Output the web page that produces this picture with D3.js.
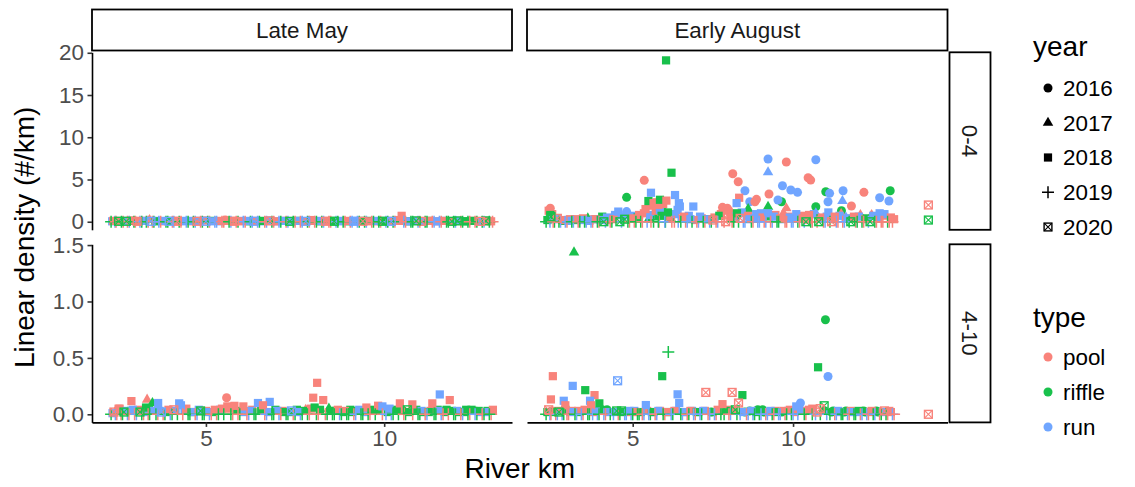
<!DOCTYPE html>
<html><head><meta charset="utf-8">
<script src="https://cdn.jsdelivr.net/npm/d3@7"></script>
<style>body{margin:0;background:#fff} text{font-family:"Liberation Sans",Arial,sans-serif}</style>
</head><body><svg id="c" width="1135" height="487"></svg>
<script>
const periods = ["Late May","Early August"];
const sizeClasses = ["0-4","4-10"];
const years = ["2016","2017","2018","2019","2020"];
const types = ["pool","riffle","run"];
const typeColors = ["#F8766D","#00BA38","#619CFF"];
const xTicks = [5,10];
const yTicksTop = [0,5,10,15,20];
const yTicksBottom = [0,0.5,1,1.5];

// records: [river km, density, year index, type index]
const mayJuv = [
[2.34,0,3,1],[2.40,0.1,2,0],[2.48,0,3,0],[2.55,0.05,4,1],[2.63,0,3,1],[2.72,0.1,2,2],[2.80,0,3,0],[2.90,0.15,2,0],[2.98,0,3,1],[3.07,0.05,4,0],[3.15,0,3,2],[3.25,0.1,2,2],[3.33,0,3,1],[3.42,0.2,1,0],[3.50,0,3,0],[3.58,0.05,2,1],[3.68,0,3,2],[3.78,0.1,2,2],[3.88,0,3,1],[3.97,0.05,4,2],[4.06,0,3,0],[4.15,0.1,2,0],[4.25,0,3,1],[4.35,0.05,2,2],[4.45,0,3,2],[4.55,0.1,2,2],[4.65,0,3,1],[4.75,0.05,4,0],[4.85,0,3,0],[4.95,0.15,2,0],[5.05,0,3,1],[5.15,0.05,2,2],[5.25,0,3,2],[5.35,0.1,2,0],[5.45,0,3,0],[5.55,0.2,0,0],[5.65,0,3,1],[5.75,0.1,2,0],[5.85,0,3,0],[5.95,0.05,2,0],[6.05,0,3,2],[6.15,0.1,2,2],[6.25,0,3,1],[6.35,0.05,4,2],[6.45,0,3,2],[6.55,0.1,2,1],[6.65,0,3,0],[6.75,0.15,2,2],[6.85,0,3,1],[6.95,0.05,2,0],[7.05,0,3,2],[7.15,0.1,2,2],[7.25,0,3,0],[7.35,0.05,4,1],[7.45,0,3,1],[7.55,0.1,2,2],[7.65,0,3,0],[7.75,0.05,2,0],[7.85,0,3,1],[7.95,0.2,2,0],[8.05,0,3,0],[8.15,0.1,2,2],[8.25,0,3,1],[8.35,0.05,4,0],[8.45,0,3,0],[8.55,0.1,2,1],[8.65,0,3,2],[8.75,0.05,2,2],[8.85,0,3,1],[8.95,0.1,2,0],[9.05,0,3,0],[9.15,0.05,4,2],[9.25,0,3,2],[9.35,0.1,2,1],[9.45,0,3,1],[9.55,0.05,2,0],[9.65,0,3,0],[9.75,0.1,2,2],[9.85,0,3,1],[9.95,0.05,4,1],[10.05,0,3,2],[10.15,0.1,2,0],[10.25,0,3,1],[10.35,0.2,2,0],[10.49,0.7,2,0],[10.60,0,3,0],[10.70,0.05,2,2],[10.80,0,3,1],[10.90,0.1,4,1],[11.00,0,3,0],[11.10,0.05,2,2],[11.20,0,3,1],[11.30,0.1,2,0],[11.40,0,3,2],[11.50,0.05,2,2],[11.60,0,3,0],[11.70,0.1,2,0],[11.80,0,3,1],[11.90,0.05,4,1],[12.00,0,3,2],[12.10,0.1,2,2],[12.20,0,3,1],[12.30,0.05,2,1],[12.40,0,3,0],[12.50,0.1,2,1],[12.60,0,3,1],[12.70,0.05,4,0],[12.80,0,3,2],[12.90,0.1,2,0],[13.04,0,3,0]
];
const mayJuvMore = [
[2.37,0.05,2,2],[2.45,0,3,2],[2.52,0.1,2,0],[2.68,0,3,0],[2.77,0.05,4,1],[2.85,0,3,2],[2.94,0.1,2,1],[3.02,0,3,0],[3.11,0.05,2,0],[3.20,0,3,1],[3.29,0.1,2,0],[3.38,0,3,0],[3.46,0.05,4,2],[3.54,0,3,1],[3.63,0.1,2,2],[3.73,0,3,0],[3.83,0.05,2,0],[3.93,0,3,1],[4.01,0.1,2,1],[4.10,0,3,2],[4.20,0.05,4,0],[4.30,0,3,0],[4.40,0.1,2,2],[4.50,0,3,1],[4.60,0.05,2,0],[4.70,0,3,2],[4.80,0.1,2,2],[4.90,0,3,1],[5.00,0.05,4,2],[5.10,0,3,0],[5.20,0.1,2,1],[5.30,0,3,2],[5.40,0.05,2,2],[5.50,0,3,0],[5.60,0.1,2,0],[5.70,0,3,2],[5.80,0.05,4,0],[5.90,0,3,1],[6.00,0.1,2,2],[6.10,0,3,0],[6.20,0.05,2,1],[6.30,0,3,2],[6.40,0.1,2,0],[6.50,0,3,1],[6.60,0.05,2,2],[6.70,0,3,2],[6.80,0.1,4,0],[6.90,0,3,0],[7.00,0.05,2,2],[7.10,0,3,1],[7.20,0.1,2,0],[7.30,0,3,2],[7.40,0.05,2,2],[7.50,0,3,0],[7.60,0.1,2,1],[7.70,0,3,2],[7.80,0.05,4,2],[7.90,0,3,0],[8.00,0.1,2,0],[8.10,0,3,1],[8.20,0.05,2,1],[8.30,0,3,2],[8.40,0.1,2,0],[8.50,0,3,0],[8.60,0.05,4,1],[8.70,0,3,1],[8.80,0.1,2,2],[8.90,0,3,0],[9.00,0.05,2,1],[9.10,0,3,2],[9.20,0.1,2,2],[9.30,0,3,1],[9.40,0.05,4,0],[9.50,0,3,2],[9.60,0.1,2,1],[9.70,0,3,1],[9.80,0.05,2,0],[9.90,0,3,0],[10.00,0.1,2,1],[10.10,0,3,1],[10.20,0.05,4,2],[10.30,0,3,0],[10.42,0.1,2,0],[10.55,0,3,2],[10.65,0.05,2,1],[10.75,0,3,1],[10.85,0.1,2,2],[10.95,0,3,2],[11.05,0.05,4,0],[11.15,0,3,1],[11.25,0.1,2,1],[11.35,0,3,0],[11.45,0.05,2,0],[11.55,0,3,2],[11.65,0.1,2,2],[11.75,0,3,1],[11.85,0.05,2,0],[11.95,0,3,1],[12.05,0.1,4,1],[12.15,0,3,0],[12.25,0.05,2,1],[12.35,0,3,1],[12.45,0.1,2,0],[12.55,0,3,0],[12.65,0.05,2,2],[12.75,0,3,1],[12.85,0.1,4,1],[12.95,0,3,1],[13.00,0.05,2,0]
];
const mayAdult = [
[2.34,0,3,1],[2.42,0.02,4,0],[2.50,0,3,0],[2.58,0.05,2,0],[2.66,0,3,1],[2.75,0.03,2,2],[2.84,0,3,0],[2.95,0.04,2,2],[3.05,0,3,2],[3.15,0.02,4,1],[3.25,0,3,0],[3.32,0.06,2,1],[3.42,0,3,1],[3.55,0.03,2,2],[3.65,0,3,0],[3.75,0.02,4,2],[3.85,0,3,1],[3.95,0.04,2,0],[4.05,0,3,1],[4.15,0.03,2,2],[4.35,0,3,0],[4.45,0.05,2,0],[4.55,0,3,1],[4.65,0.02,2,2],[4.75,0,3,2],[4.85,0.03,4,1],[4.95,0,3,1],[5.05,0.02,2,2],[5.15,0,3,0],[5.25,0.04,2,0],[5.35,0,3,1],[5.45,0.05,2,0],[5.70,0,3,1],[5.90,0,3,0],[6.15,0,3,0],[6.25,0.03,2,2],[6.35,0,3,1],[6.70,0,3,2],[6.90,0,3,1],[7.00,0.03,2,2],[7.10,0,3,0],[7.20,0.02,2,1],[7.30,0,3,1],[7.40,0.03,4,2],[7.50,0,3,1],[7.60,0.02,2,2],[7.70,0,3,1],[7.80,0.04,1,0],[7.90,0,3,0],[8.05,0.06,2,1],[8.15,0,3,0],[8.40,0,3,1],[8.50,0.03,2,1],[8.60,0,3,1],[8.70,0.04,2,0],[8.80,0,3,1],[8.90,0.03,2,0],[9.00,0,3,1],[9.10,0.02,2,1],[9.20,0,3,2],[9.30,0.04,2,2],[9.40,0,3,1],[9.60,0,3,0],[9.70,0.03,2,1],[10.05,0,3,2],[10.15,0.05,2,2],[10.25,0,3,1],[10.35,0.03,2,1],[10.55,0,3,0],[10.65,0.04,4,1],[10.95,0,3,1],[11.05,0.03,2,2],[11.15,0,3,0],[11.25,0.02,2,1],[11.45,0,3,1],[11.55,0.03,2,2],[11.65,0,3,0],[11.75,0.04,2,1],[11.95,0,3,1],[12.05,0.03,2,2],[12.15,0,3,0],[12.25,0.02,2,1],[12.35,0,3,1],[12.45,0.04,2,1],[12.55,0,3,2],[12.65,0.03,2,1],[12.75,0,3,0],[12.85,0.02,2,2],[12.95,0,3,1],[13.05,0.04,2,0],
[3.35,0.13,1,0],[2.91,0.117,2,0],[3.66,0.10,2,2],[5.58,0.147,0,0],[5.60,0.07,2,0],[5.80,0.075,2,0],[6.05,0.07,2,0],[4.25,0.097,2,2],[6.79,0.11,2,2],[6.46,0.10,2,2],[6.60,0.08,2,0],[3.50,0.10,1,1],[8.12,0.279,2,0],[8.01,0.147,2,0],[8.29,0.126,2,0],[11.56,0.176,2,2],[11.84,0.126,2,0],[10.79,0.088,2,0],[11.35,0.097,2,0],[10.44,0.097,2,0],[9.83,0.076,2,0],[9.50,0.06,2,0],[9.95,0.07,2,2],[2.55,0.05,2,0],[4.30,0.08,2,2]
];
const mayAdultMore = [
[2.38,0.01,2,2],[2.46,0,3,2],[2.54,0.03,2,0],[2.62,0,3,0],[2.70,0.02,4,1],[2.80,0,3,2],[2.90,0.03,2,1],[3.00,0,3,0],[3.10,0.04,2,0],[3.20,0,3,1],[3.30,0.02,2,2],[3.38,0,3,0],[3.46,0.05,1,1],[3.60,0,3,1],[3.70,0.03,2,2],[3.80,0,3,0],[3.90,0.02,2,1],[4.00,0,3,2],[4.10,0.04,4,0],[4.20,0,3,1],[4.40,0.03,2,2],[4.50,0,3,1],[4.60,0.02,2,1],[4.70,0,3,0],[4.80,0.04,2,2],[4.90,0,3,1],[5.00,0.03,2,0],[5.10,0,3,2],[5.20,0.02,2,1],[5.30,0,3,0],[5.40,0.04,2,2],[5.50,0,3,1],[5.65,0.05,2,0],[5.75,0,3,0],[5.85,0.03,2,1],[5.95,0,3,1],[6.05,0.02,2,2],[6.20,0,3,2],[6.30,0.04,2,0],[6.40,0,3,1],[6.55,0.03,2,1],[6.65,0,3,0],[6.75,0.02,2,2],[6.85,0,3,1],[6.95,0.04,2,1],[7.05,0,3,2],[7.15,0.03,2,0],[7.25,0,3,1],[7.35,0.02,2,1],[7.45,0,3,0],[7.55,0.04,2,1],[7.65,0,3,2],[7.75,0.03,2,1],[7.85,0,3,1],[7.95,0.05,2,0],[8.10,0,3,1],[8.20,0.04,2,1],[8.35,0,3,0],[8.45,0.05,1,1],[8.55,0,3,1],[8.65,0.03,2,1],[8.75,0,3,2],[8.85,0.02,2,1],[8.95,0,3,1],[9.05,0.04,2,1],[9.15,0,3,0],[9.25,0.03,2,1],[9.35,0,3,1],[9.45,0.02,2,2],[9.55,0,3,1],[9.65,0.04,2,1],[9.75,0,3,1],[9.85,0.03,2,1],[9.95,0,3,0],[10.10,0.02,2,1],[10.20,0,3,2],[10.30,0.04,2,1],[10.40,0,3,1],[10.50,0.03,2,0],[10.60,0,3,1],[10.70,0.02,2,1],[10.80,0,3,0],[10.90,0.04,2,1],[11.00,0,3,1],[11.10,0.02,2,1],[11.20,0,3,2],[11.30,0.03,2,0],[11.40,0,3,1],[11.50,0.04,2,1],[11.60,0,3,2],[11.70,0.02,2,1],[11.80,0,3,0],[11.90,0.03,2,1],[12.00,0,3,1],[12.10,0.02,2,1],[12.20,0,3,2],[12.30,0.04,2,1],[12.40,0,3,0],[12.50,0.03,2,1],[12.60,0,3,1],[12.70,0.02,2,2],[12.80,0,3,1],[12.90,0.03,2,1],[13.00,0,3,0]
];
const augJuv = [
[2.30,0,3,1],[2.38,1.3,2,0],[2.45,0.6,4,1],[2.52,0,3,0],[2.60,0.3,2,2],[2.70,0,3,1],[2.80,0.2,2,0],[2.90,0,3,2],[3.00,0.1,2,2],[3.10,0,3,1],[3.20,0.3,2,0],[3.30,0,3,0],[3.40,0.2,2,2],[3.50,0,3,1],[3.60,0.4,1,1],[3.70,0,3,2],[3.80,0.3,2,0],[3.90,0,3,1],[4.00,0.2,2,2],[4.10,0,4,1],[4.20,0.5,2,2],[4.30,0,3,0],[4.40,0.3,2,0],[4.55,1.2,2,2],[4.60,0,4,1],[4.70,0.6,0,2],[4.81,1.2,0,2],[4.90,0,3,0],[5.00,0.4,2,0],[5.10,0,3,1],[5.20,0.8,2,0],[5.30,0,3,0],[5.40,1.5,2,0],[5.50,0.3,1,1],[5.57,0,3,0],[5.62,1.9,2,0],[5.70,0.5,1,1],[5.75,2.3,2,0],[5.80,0,3,1],[5.85,1.4,2,2],[5.90,0.7,2,1],[5.95,2.1,2,0],[6.00,0,3,2],[6.10,1.1,2,1],[6.20,0.3,1,1],[6.30,0,3,0],[6.40,1.4,2,2],[6.50,0,3,1],[6.60,0.6,2,0],[6.70,0,3,2],[6.80,0.3,2,2],[6.89,1.8,2,2],[7.00,0,3,0],[7.10,0.6,2,2],[7.20,0,3,1],[7.30,0.3,2,2],[7.40,0,3,2],[7.50,0.2,4,0],[7.60,0,3,0],[7.70,0.7,2,1],[7.80,1.2,0,0],[7.90,0,4,0],[8.00,1.3,0,0],[8.05,0.5,2,0],[8.15,0,3,1],[8.25,1.0,2,1],[8.35,0.4,4,0],[8.45,0,3,2],[8.55,1.0,1,1],[8.65,0.3,2,2],[8.75,0,3,0],[8.85,0.9,2,2],[8.95,0,3,2],[9.05,0.5,2,0],[9.15,0,3,2],[9.22,1.0,2,2],[9.30,0,3,0],[9.40,0.6,2,2],[9.50,0,3,1],[9.60,0.4,2,0],[9.70,1.0,1,0],[9.80,0,3,0],[9.90,0.5,2,2],[10.00,0,3,2],[10.10,0.9,2,2],[10.20,0,3,0],[10.30,0.4,2,0],[10.40,0,4,1],[10.50,0.8,2,0],[10.60,0,3,0],[10.71,1.0,1,2],[10.80,0,4,1],[10.90,0.5,2,0],[11.00,0,3,2],[11.10,1.1,2,2],[11.20,0,4,0],[11.30,0.6,2,0],[11.40,0,3,0],[11.50,0.9,1,0],[11.60,0,3,2],[11.70,0.4,2,2],[11.80,0,4,1],[11.90,0.6,2,0],[12.00,0,3,1],[12.10,0.8,1,0],[12.20,0,3,0],[12.30,0.4,2,1],[12.40,0,4,1],[12.50,0.7,2,2],[12.60,0,3,0],[12.70,1.0,2,2],[12.80,0,3,0],[12.90,0.6,1,0],[13.00,0,3,0],[13.15,0.3,2,0],
[4.81,2.89,0,1],[5.36,4.9,0,0],[6.04,19.1,2,1],[6.21,5.8,2,1],[5.57,3.43,2,2],[8.12,5.68,0,0],[8.29,4.73,0,0],[6.32,3.16,2,2],[5.49,2.45,2,1],[5.65,2.2,2,0],[5.80,2.0,2,0],[6.44,2.2,2,2],[6.47,1.8,2,2],[5.85,2.6,2,1],[6.05,2.5,2,0],[2.43,1.6,0,0],[2.43,0.8,2,1],[9.22,7.42,0,2],[9.22,5.85,1,2],[9.79,7.07,0,0],[10.71,7.34,0,2],[10.47,5.2,0,0],[10.55,4.93,0,0],[8.50,3.67,0,2],[9.67,4.26,0,2],[9.93,3.75,0,2],[10.14,3.48,0,2],[9.25,3.28,0,0],[9.64,2.37,0,1],[9.53,2.57,0,2],[8.32,2.84,2,0],[8.24,2.2,2,2],[8.65,2.37,0,2],[8.81,2.37,0,0],[8.86,2.65,0,0],[7.80,1.7,0,0],[7.95,1.6,0,0],[11.02,3.55,0,1],[11.14,3.36,0,2],[11.56,3.67,0,2],[11.54,2.45,1,2],[11.09,2.37,0,2],[12.21,3.48,0,0],[11.82,1.86,0,0],[12.70,2.84,0,2],[13.03,3.67,0,1],[12.99,2.45,0,2],[10.71,1.78,0,1],[11.51,1.3,0,1],[14.22,1.98,4,0],[14.22,0.2,4,1],[8.60,1.5,1,1],[9.22,1.78,1,1],[9.79,1.6,1,0]
];
const augJuvMore = [
[2.34,0.2,2,1],[2.42,0,3,2],[2.49,0.9,2,0],[2.56,0,3,1],[2.65,0.4,4,0],[2.75,0,3,2],[2.85,0.1,2,1],[2.95,0,3,0],[3.05,0.3,2,0],[3.15,0,3,2],[3.25,0.2,2,1],[3.35,0,3,1],[3.45,0.4,2,0],[3.55,0,3,2],[3.65,0.1,2,2],[3.75,0,3,0],[3.85,0.3,2,2],[3.95,0,3,0],[4.05,0.6,2,1],[4.15,0,3,2],[4.25,0.2,2,0],[4.35,0,3,1],[4.45,0.8,2,2],[4.65,0,3,2],[4.75,0.3,4,1],[4.85,0,3,1],[4.95,0.7,2,2],[5.05,0,3,0],[5.15,0.5,2,1],[5.25,0,3,1],[5.35,1.0,2,0],[5.45,0,3,2],[5.55,0.8,2,2],[5.65,0,3,1],[5.72,1.3,2,0],[5.82,0,3,0],[5.92,1.2,2,1],[6.02,0,3,1],[6.12,0.6,2,0],[6.22,0,3,0],[6.32,0.9,2,2],[6.42,0,3,2],[6.55,0.4,2,0],[6.65,0,3,0],[6.75,0.7,2,2],[6.85,0,3,1],[6.95,0.2,2,0],[7.05,0,3,2],[7.15,0.4,2,0],[7.25,0,3,0],[7.35,0.3,2,1],[7.45,0,3,1],[7.55,0.5,2,0],[7.65,0,3,2],[7.75,0.9,2,0],[7.85,0,3,0],[7.95,0.8,4,0],[8.10,0,3,0],[8.20,0.6,2,2],[8.30,0,3,1],[8.40,1.1,2,2],[8.50,0,3,2],[8.60,0.7,2,0],[8.70,0,3,1],[8.80,0.4,2,2],[8.90,0,3,2],[9.00,1.0,2,2],[9.10,0,3,0],[9.20,0.5,1,1],[9.35,0,3,2],[9.45,0.8,2,0],[9.55,0,3,1],[9.65,0.3,2,2],[9.75,0,3,0],[9.85,0.6,2,0],[9.95,0,3,2],[10.05,0.4,2,2],[10.15,0,3,1],[10.25,0.7,2,0],[10.35,0,3,2],[10.45,0.3,4,0],[10.55,0,3,1],[10.65,0.9,2,2],[10.75,0,3,0],[10.85,0.4,2,1],[10.95,0,3,0],[11.05,0.6,2,2],[11.15,0,3,1],[11.25,0.3,2,0],[11.35,0,3,2],[11.45,0.7,2,2],[11.55,0,3,0],[11.65,0.5,1,2],[11.75,0,3,1],[11.85,0.4,2,0],[11.95,0,3,0],[12.05,0.6,2,2],[12.15,0,3,1],[12.25,0.3,2,0],[12.35,0,3,2],[12.45,0.8,1,0],[12.55,0,3,1],[12.65,0.4,2,2],[12.75,0,3,0],[12.85,0.9,2,2],[12.95,0,3,1],[13.05,0.5,2,0],[13.10,0,3,0]
];
const augAdult = [
[2.30,0,3,1],[2.38,0.04,4,0],[2.45,0,3,0],[2.55,0.02,2,1],[2.65,0,3,2],[2.75,0.03,2,0],[2.85,0,3,1],[2.95,0,3,0],[3.05,0.02,2,2],[3.20,0,3,1],[3.30,0.03,2,0],[3.40,0,3,2],[3.50,0.04,2,0],[3.60,0,3,1],[3.75,0,3,2],[3.85,0.03,2,2],[3.95,0,3,1],[4.05,0.04,0,1],[4.15,0,3,0],[4.25,0.02,2,2],[4.40,0,3,2],[4.50,0.03,4,1],[4.60,0,3,1],[4.70,0.02,2,1],[4.80,0,3,2],[4.90,0.03,2,2],[5.00,0,3,1],[5.10,0.02,2,0],[5.20,0,3,1],[5.30,0,3,0],[5.50,0,3,2],[5.60,0.02,2,1],[5.70,0,3,0],[5.80,0.03,2,2],[5.95,0,3,1],[6.05,0.02,2,0],[6.20,0,3,2],[6.30,0.03,2,0],[6.50,0,3,1],[6.60,0.02,2,2],[6.70,0,3,0],[6.80,0.03,2,0],[6.90,0,3,2],[7.00,0.02,2,1],[7.10,0,3,2],[7.20,0.03,2,2],[7.35,0,3,0],[7.45,0.02,0,1],[7.55,0,3,2],[7.65,0.04,2,0],[7.75,0,3,1],[7.90,0.03,2,1],[8.00,0,3,0],[8.20,0.04,4,1],[8.35,0,3,2],[8.50,0.02,0,1],[8.60,0,3,2],[8.70,0.03,2,2],[8.80,0,3,1],[8.90,0.04,0,1],[9.00,0,3,2],[9.10,0.02,0,1],[9.20,0,3,2],[9.30,0.03,2,2],[9.40,0,3,0],[9.50,0.02,2,1],[9.60,0,3,2],[9.70,0.03,2,0],[9.80,0,3,1],[9.90,0.04,2,0],[10.00,0,3,2],[10.35,0,3,1],[10.45,0.03,2,0],[10.70,0,3,2],[11.15,0,3,1],[11.25,0.03,0,1],[11.35,0,3,2],[11.45,0.02,2,2],[11.55,0,3,1],[11.65,0.03,0,1],[11.75,0,3,0],[11.85,0.02,2,2],[11.95,0,3,1],[12.05,0.03,2,1],[12.15,0,3,2],[12.25,0.02,0,1],[12.35,0,3,0],[12.45,0.03,2,0],[12.55,0,3,2],[12.65,0.02,0,1],[12.75,0,3,1],[12.85,0.03,4,0],[12.95,0,3,0],[13.05,0.02,2,0],[13.15,0,3,0],
[2.51,0.338,2,0],[4.53,0.297,4,2],[3.13,0.252,2,2],[3.52,0.214,2,1],[3.81,0.17,2,0],[5.92,0.338,2,1],[6.40,0.177,2,2],[7.28,0.194,4,0],[8.10,0.194,4,0],[8.42,0.17,2,1],[2.45,0.132,2,0],[2.85,0.12,2,2],[2.90,0.08,2,0],[3.96,0.097,2,1],[3.67,0.12,2,2],[5.41,0.082,2,2],[7.80,0.09,2,0],[8.30,0.10,4,0],[3.17,1.435,1,1],[11.01,0.838,0,1],[10.78,0.417,2,1],[11.09,0.335,0,2],[6.11,0.553,3,1],[10.23,0.10,0,2],[10.97,0.076,4,1],[10.10,0.07,2,2],[10.60,0.05,2,0],[10.85,0.05,4,0],[14.22,0,4,0],[6.45,0.10,2,2],[3.70,0.08,2,0]
];
const augAdultMore = [
[2.34,0.02,2,1],[2.42,0,3,2],[2.50,0.03,2,0],[2.60,0,3,0],[2.70,0.02,4,1],[2.80,0,3,2],[2.90,0.04,2,1],[3.00,0,3,0],[3.10,0.03,2,0],[3.25,0,3,2],[3.35,0.02,2,1],[3.45,0,3,0],[3.55,0.03,2,2],[3.65,0,3,1],[3.80,0.02,2,0],[3.90,0,3,2],[4.00,0.03,2,1],[4.10,0,3,2],[4.20,0.04,0,1],[4.30,0,3,1],[4.45,0.02,2,2],[4.55,0,3,0],[4.65,0.03,4,1],[4.75,0,3,2],[4.85,0.02,2,0],[4.95,0,3,2],[5.05,0.03,2,2],[5.15,0,3,1],[5.25,0.02,2,1],[5.35,0,3,2],[5.45,0.03,2,0],[5.55,0,3,1],[5.65,0.02,2,2],[5.75,0,3,2],[5.85,0.03,2,0],[6.00,0,3,0],[6.10,0.02,2,1],[6.25,0,3,1],[6.35,0.03,2,2],[6.55,0,3,2],[6.65,0.02,2,0],[6.75,0,3,1],[6.85,0.03,2,2],[6.95,0,3,0],[7.05,0.02,2,2],[7.15,0,3,1],[7.25,0.03,2,0],[7.40,0,3,2],[7.50,0.02,2,1],[7.60,0,3,0],[7.70,0.03,2,2],[7.85,0,3,1],[7.95,0.04,2,0],[8.05,0,3,2],[8.15,0.03,2,0],[8.25,0,3,1],[8.45,0.02,2,2],[8.55,0,3,0],[8.65,0.03,0,1],[8.75,0,3,2],[8.85,0.02,2,1],[8.95,0,3,1],[9.05,0.04,0,1],[9.15,0,3,0],[9.25,0.02,2,2],[9.35,0,3,1],[9.45,0.03,2,0],[9.55,0,3,2],[9.65,0.02,0,1],[9.75,0,3,0],[9.85,0.03,2,2],[9.95,0,3,1],[10.05,0.02,2,0],[10.15,0,3,2],[10.25,0.03,2,2],[10.40,0,3,0],[10.50,0.04,2,0],[10.60,0,3,1],[10.75,0.02,4,0],[10.85,0,3,1],[10.95,0.03,2,1],[11.05,0,3,2],[11.20,0.02,0,1],[11.30,0,3,0],[11.40,0.03,2,2],[11.50,0,3,1],[11.60,0.02,0,1],[11.70,0,3,2],[11.80,0.03,2,0],[11.90,0,3,1],[12.00,0.02,2,2],[12.10,0,3,0],[12.20,0.03,0,1],[12.30,0,3,2],[12.40,0.02,2,0],[12.50,0,3,1],[12.60,0.03,0,1],[12.70,0,3,0],[12.80,0.02,2,2],[12.90,0,3,1],[13.00,0.03,2,0],[13.10,0,3,2]
];

// rows are drawn in year order, as stacked yearly survey tables would be
function byYear(arr){ return d3.sort(arr, d=>d[2]); }
const panelData = [
  [byYear(mayJuvMore.concat(mayJuv)), byYear(augJuvMore.concat(augJuv))],
  [byYear(mayAdultMore.concat(mayAdult)), byYear(augAdultMore.concat(augAdult))]
]; // [row][col]

const svg = d3.select("#c");
const cols = [[92,512],[527,947.5]];
const rows = [[52.3,229.8],[244.3,422.4]];

function expand(ext){const r=ext[1]-ext[0];return [ext[0]-0.05*r, ext[1]+0.05*r];}
const xScales = cols.map((c,ci)=>{
  const all = panelData[0][ci].concat(panelData[1][ci]);
  return d3.scaleLinear().domain(expand(d3.extent(all,d=>d[0]))).range(c);
});
const yScales = rows.map((r,ri)=>{
  const all = panelData[ri][0].concat(panelData[ri][1]);
  return d3.scaleLinear().domain(expand(d3.extent(all,d=>d[1]))).range([r[1],r[0]]);
});

function drawShape(g, shape, x, y, color){
  if(shape===0){
    g.append("circle").attr("cx",x).attr("cy",y).attr("r",4.5).attr("fill",color);
  } else if(shape===1){
    const s=10.5, h=s*Math.sqrt(3)/2;
    g.append("path").attr("d",`M${x},${y-h*2/3}L${x+s/2},${y+h/3}L${x-s/2},${y+h/3}Z`).attr("fill",color);
  } else if(shape===2){
    g.append("rect").attr("x",x-4.1).attr("y",y-4.1).attr("width",8.2).attr("height",8.2).attr("fill",color);
  } else if(shape===3){
    g.append("path").attr("d",`M${x-6},${y}H${x+6}M${x},${y-6}V${y+6}`).attr("stroke",color).attr("stroke-width",1.5).attr("fill","none");
  } else {
    const a=3.9;
    g.append("rect").attr("x",x-a).attr("y",y-a).attr("width",2*a).attr("height",2*a).attr("fill","none").attr("stroke",color).attr("stroke-width",1.4);
    g.append("path").attr("d",`M${x-a},${y-a}L${x+a},${y+a}M${x+a},${y-a}L${x-a},${y+a}`).attr("stroke",color).attr("stroke-width",1.1).attr("fill","none");
  }
}

// points
rows.forEach((r,ri)=>cols.forEach((c,ci)=>{
  const g = svg.append("g").attr("opacity",0.9);
  panelData[ri][ci].forEach(d=>drawShape(g,d[2],xScales[ci](d[0]),yScales[ri](d[1]),typeColors[d[3]]));
}));

// axes
const fontTick = 22.4;
function styleAxis(sel){
  sel.select(".domain").attr("stroke","#000").attr("stroke-width",1.6);
  sel.selectAll(".tick line").attr("stroke","#333").attr("stroke-width",1.6);
  sel.selectAll(".tick text").attr("fill","#4D4D4D").style("font-size",fontTick+"px").style("font-family","Liberation Sans, Arial, sans-serif");
}
const yTickSets=[yTicksTop,yTicksBottom];
const yFormats=[d3.format("d"),d3.format(".1f")];
rows.forEach((r,ri)=>{
  const ax = svg.append("g").attr("transform",`translate(${cols[0][0]},0)`)
    .call(d3.axisLeft(yScales[ri]).tickValues(yTickSets[ri]).tickFormat(yFormats[ri]).tickSize(4.5).tickSizeOuter(0).tickPadding(3.5));
  styleAxis(ax);
});
cols.forEach((c,ci)=>{
  const ax = svg.append("g").attr("transform",`translate(0,${rows[1][1]})`)
    .call(d3.axisBottom(xScales[ci]).tickValues(xTicks).tickFormat(d3.format("d")).tickSize(4.5).tickSizeOuter(0).tickPadding(3));
  styleAxis(ax);
});

// strips
cols.forEach((c,ci)=>{
  svg.append("rect").attr("x",c[0]).attr("y",9.5).attr("width",c[1]-c[0]).attr("height",41).attr("fill","#fff").attr("stroke","#000").attr("stroke-width",1.8);
  svg.append("text").attr("x",(c[0]+c[1])/2).attr("y",30).attr("dy","0.35em").attr("text-anchor","middle").attr("fill","#1A1A1A").style("font-size","22.4px").text(periods[ci]);
});
rows.forEach((r,ri)=>{
  svg.append("rect").attr("x",949.5).attr("y",r[0]).attr("width",41).attr("height",r[1]-r[0]).attr("fill","#fff").attr("stroke","#000").attr("stroke-width",1.8);
  const cy=(r[0]+r[1])/2;
  svg.append("text").attr("transform",`translate(970,${cy}) rotate(90)`).attr("dy","0.35em").attr("text-anchor","middle").attr("fill","#1A1A1A").style("font-size","22.4px").text(sizeClasses[ri]);
});

// axis titles
svg.append("text").attr("x",(cols[0][0]+cols[1][1])/2).attr("y",478).attr("text-anchor","middle").attr("fill","#000").style("font-size","28px").text("River km");
svg.append("text").attr("transform",`translate(34,${(rows[0][0]+rows[1][1])/2}) rotate(-90)`).attr("text-anchor","middle").attr("fill","#000").style("font-size","28px").text("Linear density (#/km)");

// legends
svg.append("text").attr("x",1033).attr("y",56).attr("fill","#000").style("font-size","28px").text("year");
years.forEach((yr,i)=>{
  const cy=88+i*34.75;
  drawShape(svg,i,1048,cy,"#000");
  svg.append("text").attr("x",1063).attr("y",cy).attr("dy","0.35em").attr("fill","#000").style("font-size","22.4px").text(yr);
});
svg.append("text").attr("x",1033).attr("y",327).attr("fill","#000").style("font-size","28px").text("type");
types.forEach((t,i)=>{
  const cy=357+i*35;
  drawShape(svg.append("g").attr("opacity",0.9),0,1048,cy,typeColors[i]);
  svg.append("text").attr("x",1063).attr("y",cy).attr("dy","0.35em").attr("fill","#000").style("font-size","22.4px").text(t);
});
</script></body></html>
